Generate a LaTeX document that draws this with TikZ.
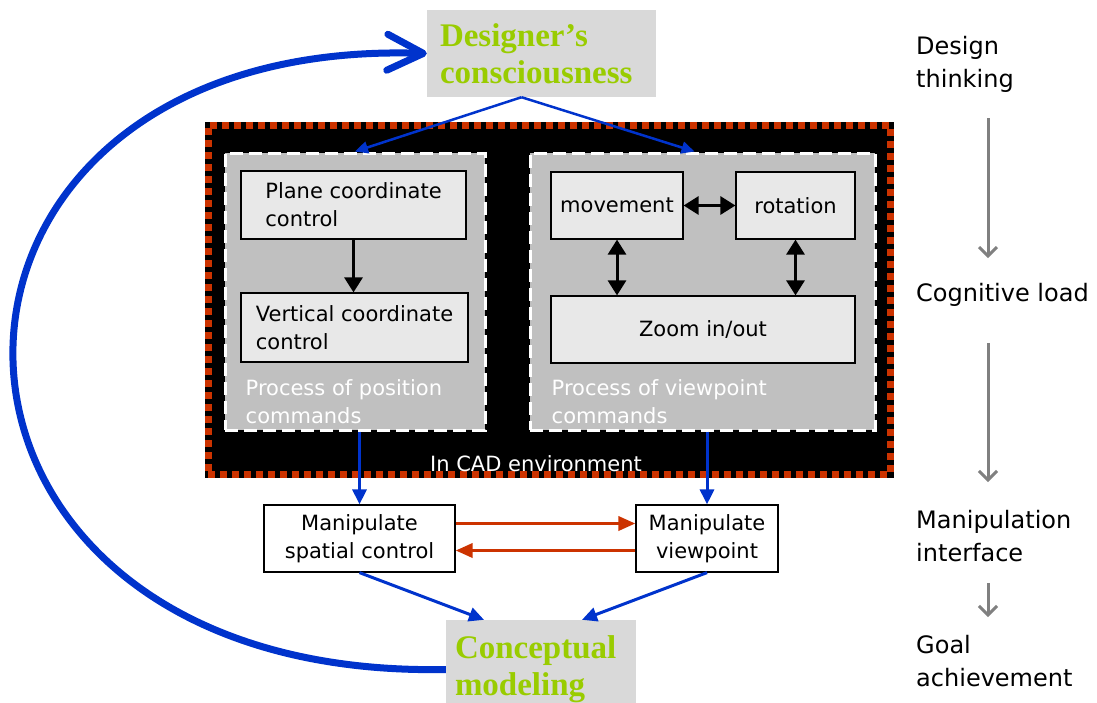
\documentclass[tikz,border=0pt]{standalone}
\usepackage{fontspec}
\setmainfont{DejaVu Sans}
\newfontfamily\headfont{Liberation Serif}
\usetikzlibrary{arrows.meta, positioning}

\definecolor{cadred}{HTML}{CC3300}
\definecolor{linkblue}{HTML}{0033CC}
\definecolor{headgreen}{HTML}{99CC00}
\definecolor{headgray}{HTML}{D9D9D9}
\definecolor{panelgray}{HTML}{C0C0C0}
\definecolor{cmdgray}{HTML}{E8E8E8}
\definecolor{stagegray}{HTML}{808080}

\begin{document}
\begin{tikzpicture}[x=1pt, y=-1pt,
    boxfont/.style={font=\fontsize{21}{28}\selectfont},
    headnode/.style={fill=headgray, text=headgreen, inner sep=0pt, align=left,
      font=\headfont\bfseries\fontsize{33}{37}\selectfont},
    cadbox/.style={fill=black, draw=cadred, line width=7pt, dash pattern=on 7pt off 5pt,
      preaction={draw=black, solid, line width=7pt}},
    panel/.style={fill=panelgray, draw=white, line width=3pt, dash pattern=on 13pt off 6pt},
    cmd/.style={boxfont, fill=cmdgray, draw=black, line width=1.2pt, align=left, inner sep=0pt},
    manip/.style={boxfont, fill=white, draw=black, line width=1.2pt, align=center, inner sep=0pt},
    panellabel/.style={boxfont, text=white, align=left, inner sep=0pt},
    stage/.style={font=\fontsize{24}{33}\selectfont, align=left, inner sep=0pt, anchor=west},
    feedarrow/.style={draw=linkblue, line width=2.5pt, -{Triangle[length=13pt, width=12pt]}},
    flowdown/.style={draw=linkblue, line width=3pt, -{Triangle[length=15pt, width=14pt]}},
    relay/.style={draw=cadred, line width=3.5pt, -{Triangle[length=17pt, width=14pt]}},
    cmdarrow/.style={line width=3pt, -{Triangle[length=15pt, width=18pt]}},
    cmdboth/.style={line width=3pt, {Triangle[length=15pt, width=18pt]}-{Triangle[length=15pt, width=18pt]}},
    feedback/.style={draw=linkblue, line width=7pt, -{Straight Barb[length=36pt, width=36pt, round]}},
    stagearrow/.style={draw=stagegray, line width=3pt, -{Straight Barb[length=9pt, width=18pt]}}]

    \useasboundingbox (0,0) rectangle (1097,702);

    % 设计者意识
    \node[headnode, text width=203pt, minimum width=229pt, minimum height=87pt] (designer) at (541.5, 53.5) {Designer’s\\consciousness};

    % CAD 环境
    \node[cadbox, minimum width=682pt, minimum height=349pt] (cad) at (549, 299.5) {};
    \node[panel, minimum width=260pt, minimum height=277pt] (posbox) at (355, 291.5) {};
    \node[panel, minimum width=345pt, minimum height=277pt] (viewbox) at (702.5, 291.5) {};
    \node[panellabel, anchor=base] (cadlabel) at ([shift={(-13pt,6pt)}]cad.south) {In CAD environment};

    % 位置命令
    \node[cmd, minimum width=225pt, minimum height=68pt] (plane) at (353.5, 205) {Plane coordinate\\control};
    \node[cmd, minimum width=227pt, minimum height=69pt] (vertical) at (354.5, 327.5) {Vertical coordinate\\control};
    \node[panellabel, anchor=south west] (poslabel) at ([shift={(22pt,8pt)}]posbox.south west) {Process of position\\commands};
    \draw[cmdarrow] (plane.south) -- (plane.south |- vertical.north);

    % 视点命令
    \node[cmd, minimum width=132pt, minimum height=67pt] (movement) at (617, 205.5) {movement};
    \node[cmd, minimum width=119pt, minimum height=67pt] (rotation) at (795.5, 205.5) {rotation};
    \node[cmd, minimum width=304pt, minimum height=67pt] (zoom) at (703, 329.5) {Zoom in/out};
    \node[panellabel, anchor=south west] (viewlabel) at ([shift={(23pt,8pt)}]viewbox.south west) {Process of viewpoint\\commands};
    \draw[cmdboth] (movement) -- (rotation);
    \draw[cmdboth] (movement.south) -- (movement.south |- zoom.north);
    \draw[cmdboth] (rotation.south) -- (rotation.south |- zoom.north);

    % 操作层
    \node[manip, minimum width=191pt, minimum height=67pt] (spatial) at (359.5, 538.5) {Manipulate\\spatial control};
    \node[manip, minimum width=142pt, minimum height=67pt] (viewpt) at (707, 538.5) {Manipulate\\viewpoint};
    \draw[relay] ([yshift=15pt]spatial.east) -- ([yshift=15pt]viewpt.west);
    \draw[relay] ([yshift=-12pt]viewpt.west) -- ([yshift=-12pt]spatial.east);

    % 概念建模
    \node[headnode, text width=172pt, minimum width=190pt, minimum height=99pt] (concept) at (541, 669.5) {Conceptual\\modeling};

    % 蓝色连线
    \draw[feedarrow] ([xshift=-20pt]designer.south) -- (posbox.north);
    \draw[feedarrow] ([xshift=-20pt]designer.south) -- ([xshift=-8pt]viewbox.north);
    \draw[flowdown] (spatial.north |- posbox.south) -- (spatial.north);
    \draw[flowdown] (viewpt.north |- viewbox.south) -- (viewpt.north);
    \draw[flowdown] (spatial.south) -- ([xshift=-57pt]concept.north);
    \draw[flowdown] (viewpt.south) -- ([xshift=41pt]concept.north);
    \draw[feedback] (concept.west) .. controls (-127,680) and (-127,36) .. (designer.west);

    % 右侧阶段
    \node[stage] (design) at (916, 64) {Design\\thinking};
    \node[stage] (cognitive) at (916, 295) {Cognitive load};
    \node[stage] (manipulation) at (916, 536) {Manipulation\\interface};
    \node[stage] (goal) at (916, 661) {Goal\\achievement};
    \coordinate (axis) at (988, 0);
    \draw[stagearrow, shorten <=26pt, shorten >=25pt] (design.south -| axis) -- (cognitive.north -| axis);
    \draw[stagearrow, shorten <=36pt, shorten >=28pt] (cognitive.south -| axis) -- (manipulation.north -| axis);
    \draw[stagearrow, shorten <=21pt, shorten >=18pt] (manipulation.south -| axis) -- (goal.north -| axis);
  \end{tikzpicture}
\end{document}
